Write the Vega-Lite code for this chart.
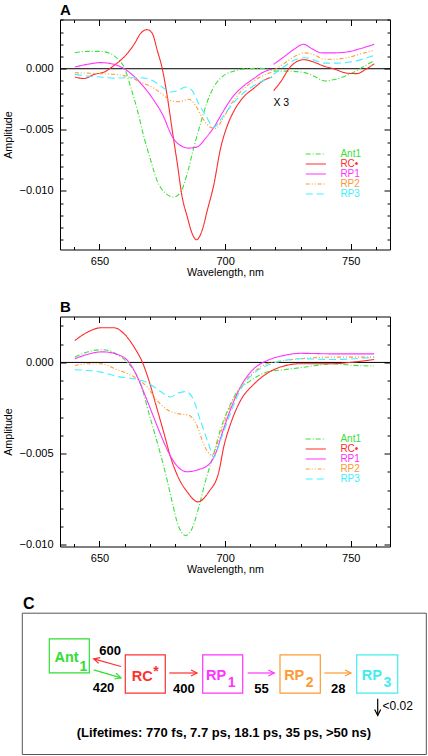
{
"$schema": "https://vega.github.io/schema/vega-lite/v6.json",
"background": "white",
"padding": {"left": 1, "top": 2.5, "right": 0, "bottom": 0},
"bounds": "flush",
"spacing": 67,
"config": {
  "view": {"stroke": "black", "strokeWidth": 1},
  "font": "Liberation Sans",
  "axis": {"domain": false, "grid": false, "tickColor": "black", "tickWidth": 1, "labelColor": "black", "labelFont": "Liberation Sans", "labelFontSize": 11, "titleColor": "black", "titleFont": "Liberation Sans", "titleFontSize": 10.7, "titleFontWeight": "normal", "labelFlush": false, "labelOverlap": false},
  "title": {"font": "Liberation Sans", "fontWeight": "bold", "color": "black", "anchor": "start", "frame": "group"}
},
"resolve": {"scale": {"color": "independent", "strokeDash": "independent"}, "legend": {"color": "independent", "strokeDash": "independent"}},
"datasets": {
"A": [
{"series":"Ant1","seg":1,"wl":640.2,"amp":0.00131},{"series":"Ant1","seg":1,"wl":645.2,"amp":0.00142},{"series":"Ant1","seg":1,"wl":650,"amp":0.00142},{"series":"Ant1","seg":1,"wl":654.5,"amp":0.00123},{"series":"Ant1","seg":1,"wl":657.1,"amp":0.00082},{"series":"Ant1","seg":1,"wl":660.1,"amp":0},{"series":"Ant1","seg":1,"wl":662.4,"amp":-0.0015},{"series":"Ant1","seg":1,"wl":665.1,"amp":-0.0034},{"series":"Ant1","seg":1,"wl":667.7,"amp":-0.0056},{"series":"Ant1","seg":1,"wl":670.4,"amp":-0.0075},{"series":"Ant1","seg":1,"wl":673,"amp":-0.0092},{"series":"Ant1","seg":1,"wl":676.3,"amp":-0.0102},{"series":"Ant1","seg":1,"wl":679.5,"amp":-0.0105},{"series":"Ant1","seg":1,"wl":682.3,"amp":-0.0101},{"series":"Ant1","seg":1,"wl":684.9,"amp":-0.0086},{"series":"Ant1","seg":1,"wl":687.6,"amp":-0.0064},{"series":"Ant1","seg":1,"wl":690.2,"amp":-0.0045},{"series":"Ant1","seg":1,"wl":692.9,"amp":-0.0027},{"series":"Ant1","seg":1,"wl":695.5,"amp":-0.0015},{"series":"Ant1","seg":1,"wl":699.5,"amp":-0.00055},{"series":"Ant1","seg":1,"wl":703.4,"amp":-0.0002},{"series":"Ant1","seg":1,"wl":708.7,"amp":0},{"series":"Ant1","seg":1,"wl":714,"amp":0.00003},{"series":"Ant1","seg":1,"wl":718.7,"amp":-0.0001},
{"series":"Ant1","seg":2,"wl":719.3,"amp":-0.0002},{"series":"Ant1","seg":2,"wl":724.6,"amp":-0.0002},{"series":"Ant1","seg":2,"wl":731.2,"amp":-0.0003},{"series":"Ant1","seg":2,"wl":735.2,"amp":-0.0006},{"series":"Ant1","seg":2,"wl":739.8,"amp":-0.001},{"series":"Ant1","seg":2,"wl":743.1,"amp":-0.0009},{"series":"Ant1","seg":2,"wl":748.4,"amp":-0.00055},{"series":"Ant1","seg":2,"wl":753.7,"amp":0},{"series":"Ant1","seg":2,"wl":759.3,"amp":0.00068},
{"series":"RC•","seg":1,"wl":640.2,"amp":-0.00068},{"series":"RC•","seg":1,"wl":643.9,"amp":-0.0008},{"series":"RC•","seg":1,"wl":647.9,"amp":-0.00046},{"series":"RC•","seg":1,"wl":651.9,"amp":-0.00027},{"series":"RC•","seg":1,"wl":655.8,"amp":0.00027},{"series":"RC•","seg":1,"wl":659.8,"amp":0.00096},{"series":"RC•","seg":1,"wl":663.8,"amp":0.002},{"series":"RC•","seg":1,"wl":666.4,"amp":0.0029},{"series":"RC•","seg":1,"wl":669,"amp":0.0032},{"series":"RC•","seg":1,"wl":671,"amp":0.0029},{"series":"RC•","seg":1,"wl":673,"amp":0.0015},{"series":"RC•","seg":1,"wl":675,"amp":0},{"series":"RC•","seg":1,"wl":677,"amp":-0.0023},{"series":"RC•","seg":1,"wl":679,"amp":-0.0051},{"series":"RC•","seg":1,"wl":681,"amp":-0.0078},{"series":"RC•","seg":1,"wl":682.9,"amp":-0.0105},{"series":"RC•","seg":1,"wl":684.9,"amp":-0.0121},{"series":"RC•","seg":1,"wl":686.9,"amp":-0.0135},{"series":"RC•","seg":1,"wl":688.6,"amp":-0.014},{"series":"RC•","seg":1,"wl":690.9,"amp":-0.0132},{"series":"RC•","seg":1,"wl":692.9,"amp":-0.0116},{"series":"RC•","seg":1,"wl":695.5,"amp":-0.0095},{"series":"RC•","seg":1,"wl":698.1,"amp":-0.0066},{"series":"RC•","seg":1,"wl":700.8,"amp":-0.0047},{"series":"RC•","seg":1,"wl":703.4,"amp":-0.0035},{"series":"RC•","seg":1,"wl":707.4,"amp":-0.0023},{"series":"RC•","seg":1,"wl":711.4,"amp":-0.0016},{"series":"RC•","seg":1,"wl":715.3,"amp":-0.00096},{"series":"RC•","seg":1,"wl":718.7,"amp":-0.00068},
{"series":"RC•","seg":2,"wl":719.3,"amp":-0.0018},{"series":"RC•","seg":2,"wl":722,"amp":-0.0011},{"series":"RC•","seg":2,"wl":725.9,"amp":0.00014},{"series":"RC•","seg":2,"wl":731.2,"amp":0.00074},{"series":"RC•","seg":2,"wl":735.2,"amp":0.00055},{"series":"RC•","seg":2,"wl":739.2,"amp":0.00022},{"series":"RC•","seg":2,"wl":743.1,"amp":0},{"series":"RC•","seg":2,"wl":748.4,"amp":-0.00036},{"series":"RC•","seg":2,"wl":752.4,"amp":-0.0004},{"series":"RC•","seg":2,"wl":756.3,"amp":0},{"series":"RC•","seg":2,"wl":759.3,"amp":0.0004},
{"series":"RP1","seg":1,"wl":640.2,"amp":0.00014},{"series":"RP1","seg":1,"wl":645.2,"amp":0.00036},{"series":"RP1","seg":1,"wl":650.5,"amp":0.0005},{"series":"RP1","seg":1,"wl":655.8,"amp":0.00036},{"series":"RP1","seg":1,"wl":659.8,"amp":0},{"series":"RP1","seg":1,"wl":663.8,"amp":-0.00063},{"series":"RP1","seg":1,"wl":667.7,"amp":-0.0015},{"series":"RP1","seg":1,"wl":671.7,"amp":-0.0026},{"series":"RP1","seg":1,"wl":675.7,"amp":-0.004},{"series":"RP1","seg":1,"wl":678.3,"amp":-0.0053},{"series":"RP1","seg":1,"wl":681,"amp":-0.0061},{"series":"RP1","seg":1,"wl":685.6,"amp":-0.0065},{"series":"RP1","seg":1,"wl":688.9,"amp":-0.0064},{"series":"RP1","seg":1,"wl":692.2,"amp":-0.0057},{"series":"RP1","seg":1,"wl":695.5,"amp":-0.0048},{"series":"RP1","seg":1,"wl":699.5,"amp":-0.0034},{"series":"RP1","seg":1,"wl":703.4,"amp":-0.0022},{"series":"RP1","seg":1,"wl":707.4,"amp":-0.0014},{"series":"RP1","seg":1,"wl":711.4,"amp":-0.0008},{"series":"RP1","seg":1,"wl":715.3,"amp":-0.00027},{"series":"RP1","seg":1,"wl":718.7,"amp":-0.00003},
{"series":"RP1","seg":2,"wl":719.3,"amp":0.00036},{"series":"RP1","seg":2,"wl":723.3,"amp":0.00096},{"series":"RP1","seg":2,"wl":727.2,"amp":0.00156},{"series":"RP1","seg":2,"wl":731.2,"amp":0.002},{"series":"RP1","seg":2,"wl":734.5,"amp":0.00164},{"series":"RP1","seg":2,"wl":738.5,"amp":0.0013},{"series":"RP1","seg":2,"wl":743.1,"amp":0.0013},{"series":"RP1","seg":2,"wl":748.4,"amp":0.00137},{"series":"RP1","seg":2,"wl":753.7,"amp":0.00164},{"series":"RP1","seg":2,"wl":759.3,"amp":0.002},
{"series":"RP2","seg":1,"wl":640.2,"amp":-0.00033},{"series":"RP2","seg":1,"wl":645.2,"amp":-0.00036},{"series":"RP2","seg":1,"wl":650.5,"amp":-0.0004},{"series":"RP2","seg":1,"wl":655.8,"amp":-0.00046},{"series":"RP2","seg":1,"wl":661.1,"amp":-0.00063},{"series":"RP2","seg":1,"wl":666.4,"amp":-0.0011},{"series":"RP2","seg":1,"wl":671.7,"amp":-0.0016},{"series":"RP2","seg":1,"wl":675.7,"amp":-0.0022},{"series":"RP2","seg":1,"wl":678.3,"amp":-0.0026},{"series":"RP2","seg":1,"wl":681.6,"amp":-0.0027},{"series":"RP2","seg":1,"wl":685.6,"amp":-0.0025},{"series":"RP2","seg":1,"wl":688.2,"amp":-0.003},{"series":"RP2","seg":1,"wl":690.9,"amp":-0.004},{"series":"RP2","seg":1,"wl":694.2,"amp":-0.0048},{"series":"RP2","seg":1,"wl":696.2,"amp":-0.0049},{"series":"RP2","seg":1,"wl":698.8,"amp":-0.0042},{"series":"RP2","seg":1,"wl":702.1,"amp":-0.003},{"series":"RP2","seg":1,"wl":706.1,"amp":-0.0019},{"series":"RP2","seg":1,"wl":711.4,"amp":-0.001},{"series":"RP2","seg":1,"wl":715.3,"amp":-0.00055},{"series":"RP2","seg":1,"wl":718.7,"amp":-0.00027},
{"series":"RP2","seg":2,"wl":719.3,"amp":-0.00014},{"series":"RP2","seg":2,"wl":723.3,"amp":0.0004},{"series":"RP2","seg":2,"wl":727.2,"amp":0.00096},{"series":"RP2","seg":2,"wl":731.9,"amp":0.0013},{"series":"RP2","seg":2,"wl":735.8,"amp":0.0011},{"series":"RP2","seg":2,"wl":739.2,"amp":0.0008},{"series":"RP2","seg":2,"wl":743.1,"amp":0.00077},{"series":"RP2","seg":2,"wl":748.4,"amp":0.0009},{"series":"RP2","seg":2,"wl":753.7,"amp":0.0012},{"series":"RP2","seg":2,"wl":759.3,"amp":0.0015},
{"series":"RP3","seg":1,"wl":640.2,"amp":-0.00046},{"series":"RP3","seg":1,"wl":645.2,"amp":-0.0006},{"series":"RP3","seg":1,"wl":650.5,"amp":-0.00068},{"series":"RP3","seg":1,"wl":655.8,"amp":-0.00077},{"series":"RP3","seg":1,"wl":661.1,"amp":-0.00074},{"series":"RP3","seg":1,"wl":666.4,"amp":-0.00074},{"series":"RP3","seg":1,"wl":670.4,"amp":-0.0009},{"series":"RP3","seg":1,"wl":674.3,"amp":-0.0014},{"series":"RP3","seg":1,"wl":678.3,"amp":-0.0019},{"series":"RP3","seg":1,"wl":681,"amp":-0.0018},{"series":"RP3","seg":1,"wl":684.3,"amp":-0.0015},{"series":"RP3","seg":1,"wl":686.9,"amp":-0.0018},{"series":"RP3","seg":1,"wl":689.6,"amp":-0.0029},{"series":"RP3","seg":1,"wl":692.2,"amp":-0.0038},{"series":"RP3","seg":1,"wl":695.5,"amp":-0.0048},{"series":"RP3","seg":1,"wl":698.1,"amp":-0.0042},{"series":"RP3","seg":1,"wl":702.1,"amp":-0.0031},{"series":"RP3","seg":1,"wl":706.1,"amp":-0.0022},{"series":"RP3","seg":1,"wl":711.4,"amp":-0.0014},{"series":"RP3","seg":1,"wl":715.3,"amp":-0.00096},{"series":"RP3","seg":1,"wl":718.7,"amp":-0.00068},
{"series":"RP3","seg":2,"wl":719.3,"amp":-0.00046},{"series":"RP3","seg":2,"wl":723.3,"amp":0.00014},{"series":"RP3","seg":2,"wl":727.2,"amp":0.00068},{"series":"RP3","seg":2,"wl":731.9,"amp":0.0009},{"series":"RP3","seg":2,"wl":735.8,"amp":0.00068},{"series":"RP3","seg":2,"wl":739.8,"amp":0.00046},{"series":"RP3","seg":2,"wl":744.4,"amp":0.00046},{"series":"RP3","seg":2,"wl":749.7,"amp":0.00055},{"series":"RP3","seg":2,"wl":755,"amp":0.0008},{"series":"RP3","seg":2,"wl":759.3,"amp":0.0011}
],
"B": [
{"series":"Ant1","wl":640.2,"amp":0.00029},{"series":"Ant1","wl":645.2,"amp":0.00057},{"series":"Ant1","wl":651.2,"amp":0.0007},{"series":"Ant1","wl":657.1,"amp":0.00044},{"series":"Ant1","wl":661.1,"amp":0},{"series":"Ant1","wl":664.4,"amp":-0.0006},{"series":"Ant1","wl":667.1,"amp":-0.0015},{"series":"Ant1","wl":669.7,"amp":-0.0028},{"series":"Ant1","wl":672.4,"amp":-0.0041},{"series":"Ant1","wl":675,"amp":-0.0054},{"series":"Ant1","wl":677,"amp":-0.0065},{"series":"Ant1","wl":679,"amp":-0.0077},{"series":"Ant1","wl":681,"amp":-0.0088},{"series":"Ant1","wl":684.3,"amp":-0.0095},{"series":"Ant1","wl":686.9,"amp":-0.0091},{"series":"Ant1","wl":689.6,"amp":-0.0079},{"series":"Ant1","wl":692.2,"amp":-0.0065},{"series":"Ant1","wl":695.5,"amp":-0.005},{"series":"Ant1","wl":698.1,"amp":-0.0037},{"series":"Ant1","wl":700.8,"amp":-0.0027},{"series":"Ant1","wl":704.8,"amp":-0.0016},{"series":"Ant1","wl":710.1,"amp":-0.001},{"series":"Ant1","wl":716.7,"amp":-0.00053},{"series":"Ant1","wl":723.3,"amp":-0.0004},{"series":"Ant1","wl":729.9,"amp":-0.00029},{"series":"Ant1","wl":736.5,"amp":-0.00016},{"series":"Ant1","wl":743.1,"amp":-0.00007},{"series":"Ant1","wl":749.7,"amp":-0.00015},{"series":"Ant1","wl":759.3,"amp":-0.0002},
{"series":"RC•","wl":640.2,"amp":0.0012},{"series":"RC•","wl":645.2,"amp":0.00166},{"series":"RC•","wl":650.5,"amp":0.0019},{"series":"RC•","wl":655.8,"amp":0.0019},{"series":"RC•","wl":659.8,"amp":0.00157},{"series":"RC•","wl":663.8,"amp":0.00084},{"series":"RC•","wl":667.1,"amp":0},{"series":"RC•","wl":669.7,"amp":-0.001},{"series":"RC•","wl":672.4,"amp":-0.0023},{"series":"RC•","wl":675.7,"amp":-0.0039},{"series":"RC•","wl":678.3,"amp":-0.0052},{"series":"RC•","wl":681,"amp":-0.0062},{"series":"RC•","wl":684.9,"amp":-0.0071},{"series":"RC•","wl":689.2,"amp":-0.00765},{"series":"RC•","wl":693.5,"amp":-0.0071},{"series":"RC•","wl":697.5,"amp":-0.006},{"series":"RC•","wl":699.5,"amp":-0.0046},{"series":"RC•","wl":702.1,"amp":-0.0034},{"series":"RC•","wl":706.1,"amp":-0.0021},{"series":"RC•","wl":711.4,"amp":-0.0012},{"series":"RC•","wl":716.7,"amp":-0.0006},{"series":"RC•","wl":723.3,"amp":-0.0002},{"series":"RC•","wl":729.9,"amp":-0.00007},{"series":"RC•","wl":743.1,"amp":-0.00007},{"series":"RC•","wl":749.7,"amp":0},{"series":"RC•","wl":759.3,"amp":0.00016},
{"series":"RP1","wl":640.2,"amp":0.0002},{"series":"RP1","wl":645.2,"amp":0.00044},{"series":"RP1","wl":651.2,"amp":0.00058},{"series":"RP1","wl":657.1,"amp":0.00044},{"series":"RP1","wl":661.8,"amp":0},{"series":"RP1","wl":665.1,"amp":-0.0008},{"series":"RP1","wl":669,"amp":-0.0021},{"series":"RP1","wl":673,"amp":-0.0035},{"series":"RP1","wl":677,"amp":-0.0048},{"series":"RP1","wl":681,"amp":-0.0057},{"series":"RP1","wl":684.9,"amp":-0.006},{"series":"RP1","wl":688.9,"amp":-0.0059},{"series":"RP1","wl":693.5,"amp":-0.0056},{"series":"RP1","wl":696.2,"amp":-0.005},{"series":"RP1","wl":698.8,"amp":-0.0039},{"series":"RP1","wl":702.1,"amp":-0.0026},{"series":"RP1","wl":706.1,"amp":-0.00135},{"series":"RP1","wl":711.4,"amp":-0.00035},{"series":"RP1","wl":716.7,"amp":0.0001},{"series":"RP1","wl":723.3,"amp":0.00038},{"series":"RP1","wl":729.9,"amp":0.0005},{"series":"RP1","wl":743.1,"amp":0.00047},{"series":"RP1","wl":759.3,"amp":0.00047},
{"series":"RP2","wl":640.2,"amp":-0.00018},{"series":"RP2","wl":645.2,"amp":-0.00007},{"series":"RP2","wl":650.5,"amp":-0.00007},{"series":"RP2","wl":657.1,"amp":-0.0004},{"series":"RP2","wl":663.8,"amp":-0.0008},{"series":"RP2","wl":669,"amp":-0.00135},{"series":"RP2","wl":673,"amp":-0.0021},{"series":"RP2","wl":677,"amp":-0.0026},{"series":"RP2","wl":681,"amp":-0.0028},{"series":"RP2","wl":685.6,"amp":-0.0029},{"series":"RP2","wl":688.9,"amp":-0.0035},{"series":"RP2","wl":691.5,"amp":-0.0045},{"series":"RP2","wl":694.8,"amp":-0.0051},{"series":"RP2","wl":698.1,"amp":-0.0039},{"series":"RP2","wl":702.1,"amp":-0.0024},{"series":"RP2","wl":706.1,"amp":-0.00135},{"series":"RP2","wl":711.4,"amp":-0.00053},{"series":"RP2","wl":716.7,"amp":-0.00007},{"series":"RP2","wl":723.3,"amp":0.0001},{"series":"RP2","wl":729.9,"amp":0.0002},{"series":"RP2","wl":743.1,"amp":0.00029},{"series":"RP2","wl":759.3,"amp":0.00029},
{"series":"RP3","wl":640.2,"amp":-0.0004},{"series":"RP3","wl":645.2,"amp":-0.00044},{"series":"RP3","wl":650.5,"amp":-0.00053},{"series":"RP3","wl":657.1,"amp":-0.00077},{"series":"RP3","wl":663.8,"amp":-0.0009},{"series":"RP3","wl":669,"amp":-0.0011},{"series":"RP3","wl":674.3,"amp":-0.0016},{"series":"RP3","wl":678.3,"amp":-0.0019},{"series":"RP3","wl":681,"amp":-0.0017},{"series":"RP3","wl":684.3,"amp":-0.0016},{"series":"RP3","wl":686.9,"amp":-0.0019},{"series":"RP3","wl":690.2,"amp":-0.0032},{"series":"RP3","wl":693.5,"amp":-0.0045},{"series":"RP3","wl":695.5,"amp":-0.0052},{"series":"RP3","wl":698.1,"amp":-0.0043},{"series":"RP3","wl":702.1,"amp":-0.0028},{"series":"RP3","wl":706.1,"amp":-0.0015},{"series":"RP3","wl":711.4,"amp":-0.0006},{"series":"RP3","wl":716.7,"amp":-0.00016},{"series":"RP3","wl":723.3,"amp":0.0001},{"series":"RP3","wl":729.9,"amp":0.0002},{"series":"RP3","wl":743.1,"amp":0.00016},{"series":"RP3","wl":759.3,"amp":0.00029}
],
"nodes": [
{"node":"Ant1","u0":27.3,"u1":67.3,"v0":25.3,"v1":59.3,"lx":56.7,"ly":48.7,"main":"Ant","sx":57.4,"sy":57,"sub":"1"},
{"node":"RC","u0":103.3,"u1":143.3,"v0":41.3,"v1":79.7,"lx":130.7,"ly":67,"main":"RC","sx":131.3,"sy":62,"sub":"*"},
{"node":"RP1","u0":180.7,"u1":220.7,"v0":41.3,"v1":79.7,"lx":204.2,"ly":66.3,"main":"RP","sx":205.7,"sy":73.8,"sub":"1"},
{"node":"RP2","u0":258,"u1":298.3,"v0":41.3,"v1":79.7,"lx":282.3,"ly":66.3,"main":"RP","sx":283.8,"sy":73.8,"sub":"2"},
{"node":"RP3","u0":334.7,"u1":375.7,"v0":41.3,"v1":79.7,"lx":360,"ly":66.3,"main":"RP","sx":361.5,"sy":73.8,"sub":"3"}
],
"arrows": [
{"node":"RC","u":99,"v":53,"u2":71.7,"v2":45.3,"ang":195.8},
{"node":"Ant1","u":71.7,"v":56.3,"u2":99,"v2":64.3,"ang":16.3},
{"node":"RC","u":147.3,"v":59.5,"u2":175,"v2":59.5,"ang":0},
{"node":"RP1","u":225.7,"v":59.5,"u2":252.3,"v2":59.5,"ang":0},
{"node":"RP2","u":302.3,"v":59.5,"u2":329,"v2":59.5,"ang":0},
{"node":"k","u":355.7,"v":85.3,"u2":355.7,"v2":102,"ang":90}
],
"rates": [
{"t":"600","u":88.2,"v":41},{"t":"420","u":81.5,"v":78.7},{"t":"400","u":161.9,"v":79.3},{"t":"55","u":239.5,"v":79.3},{"t":"28","u":316.2,"v":79.3}
]
},
"vconcat": [
{
  "title": {"text": "A", "fontSize": 15, "offset": -11, "baseline": "alphabetic"},
  "width": 330, "height": 230,
  "resolve": {"axis": {"x": "independent", "y": "independent"}},
  "layer": [
    {"data": {"values": [{"z": 0}]}, "mark": {"type": "rule", "color": "black", "strokeWidth": 1}, "encoding": {"y": {"field": "z", "type": "quantitative", "axis": null}}},
    {"data": {"name": "A"}, "mark": {"type": "line", "strokeWidth": 1.1, "interpolate": "monotone"},
     "encoding": {
      "x": {"field": "wl", "type": "quantitative", "scale": {"domain": [634.3, 765.6], "nice": false, "zero": false},
            "axis": {"orient": "bottom", "values": [650,700,750], "tickSize": 6, "offset": -6, "labelPadding": 6, "title": "Wavelength,  nm", "titlePadding": 1}},
      "y": {"field": "amp", "type": "quantitative", "scale": {"domain": [-0.0148, 0.00403], "nice": false, "zero": false},
            "axis": {"orient": "left", "values": [-0.01,-0.005,0], "format": ".3f", "tickSize": 6, "offset": -6, "labelPadding": 7, "title": "Amplitude", "titlePadding": 6}},
      "color": {"field": "series", "type": "nominal", "scale": {"domain": ["Ant1","RC•","RP1","RP2","RP3"], "range": ["#3be03b","#ff2a2a","#ff33ff","#ff9933","#40f0ff"]},
            "legend": {"orient": "none", "legendX": 250.8, "legendY": 129.5, "title": null, "symbolType": "M-2.4,0H2.4", "symbolSize": 70.6, "symbolStrokeWidth": 1.2, "labelFontSize": 10, "labelFont": "Liberation Sans", "labelOffset": 19.6, "rowPadding": 0, "padding": 0,
              "encoding": {"labels": {"fill": {"condition": [{"test": "datum.value === 'Ant1'", "value": "#3be03b"}, {"test": "datum.value === 'RC•'", "value": "#ff2a2a"}, {"test": "datum.value === 'RP1'", "value": "#ff33ff"}, {"test": "datum.value === 'RP2'", "value": "#ff9933"}], "value": "#40f0ff"}}}}},
      "strokeDash": {"field": "series", "type": "nominal", "scale": {"domain": ["Ant1","RC•","RP1","RP2","RP3"], "range": [[5,2,1,2],[1,0],[1,0],[4,2,1,2,1,2],[7,4]]}},
      "detail": {"field": "seg", "type": "nominal"}
     }},
    {"data": {"name": "A"}, "mark": {"type": "point", "opacity": 0},
     "encoding": {
      "x": {"field": "wl", "type": "quantitative", "axis": {"orient": "top", "values": [650,700,750], "tickSize": 6, "offset": -6, "labels": false, "title": null}},
      "y": {"field": "amp", "type": "quantitative", "axis": {"orient": "right", "values": [-0.01,-0.005,0], "tickSize": 6, "offset": -6, "labels": false, "title": null}}
     }},
    {"data": {"name": "A"}, "mark": {"type": "point", "opacity": 0},
     "encoding": {
      "x": {"field": "wl", "type": "quantitative", "axis": {"orient": "bottom", "values": [640,660,670,680,690,710,720,730,740,760], "tickSize": 3, "offset": -3, "labels": false, "title": null}},
      "y": {"field": "amp", "type": "quantitative", "axis": {"orient": "left", "values": [-0.014,-0.013,-0.012,-0.011,-0.009,-0.008,-0.007,-0.006,-0.004,-0.003,-0.002,-0.001,0.001,0.002,0.003,0.004], "tickSize": 3, "offset": -3, "labels": false, "title": null}}
     }},
    {"data": {"name": "A"}, "mark": {"type": "point", "opacity": 0},
     "encoding": {
      "x": {"field": "wl", "type": "quantitative", "axis": {"orient": "top", "values": [640,660,670,680,690,710,720,730,740,760], "tickSize": 3, "offset": -3, "labels": false, "title": null}},
      "y": {"field": "amp", "type": "quantitative", "axis": {"orient": "right", "values": [-0.014,-0.013,-0.012,-0.011,-0.009,-0.008,-0.007,-0.006,-0.004,-0.003,-0.002,-0.001,0.001,0.002,0.003,0.004], "tickSize": 3, "offset": -3, "labels": false, "title": null}}
     }},
    {"data": {"values": [{"wl": 719.2, "amp": -0.00284, "t": "X 3"}]}, "mark": {"type": "text", "align": "left", "baseline": "middle", "fontSize": 10.5, "font": "Liberation Sans", "color": "black"},
     "encoding": {"x": {"field": "wl", "type": "quantitative", "axis": null}, "y": {"field": "amp", "type": "quantitative", "axis": null}, "text": {"field": "t"}}}
  ]
},
{
  "title": {"text": "B", "fontSize": 15, "offset": -11, "baseline": "alphabetic"},
  "width": 330, "height": 230,
  "resolve": {"axis": {"x": "independent", "y": "independent"}},
  "layer": [
    {"data": {"values": [{"z": 0}]}, "mark": {"type": "rule", "color": "black", "strokeWidth": 1}, "encoding": {"y": {"field": "z", "type": "quantitative", "axis": null}}},
    {"data": {"name": "B"}, "mark": {"type": "line", "strokeWidth": 1.1, "interpolate": "monotone"},
     "encoding": {
      "x": {"field": "wl", "type": "quantitative", "scale": {"domain": [634.3, 765.6], "nice": false, "zero": false},
            "axis": {"orient": "bottom", "values": [650,700,750], "tickSize": 6, "offset": -6, "labelPadding": 6, "title": "Wavelength,  nm", "titlePadding": 1}},
      "y": {"field": "amp", "type": "quantitative", "scale": {"domain": [-0.0101, 0.00252], "nice": false, "zero": false},
            "axis": {"orient": "left", "values": [-0.01,-0.005,0], "format": ".3f", "tickSize": 6, "offset": -6, "labelPadding": 7, "title": "Amplitude", "titlePadding": 6}},
      "color": {"field": "series", "type": "nominal", "scale": {"domain": ["Ant1","RC•","RP1","RP2","RP3"], "range": ["#3be03b","#ff2a2a","#ff33ff","#ff9933","#40f0ff"]},
            "legend": {"orient": "none", "legendX": 250.8, "legendY": 117.5, "title": null, "symbolType": "M-2.4,0H2.4", "symbolSize": 70.6, "symbolStrokeWidth": 1.2, "labelFontSize": 10, "labelFont": "Liberation Sans", "labelOffset": 19.6, "rowPadding": 0, "padding": 0,
              "encoding": {"labels": {"fill": {"condition": [{"test": "datum.value === 'Ant1'", "value": "#3be03b"}, {"test": "datum.value === 'RC•'", "value": "#ff2a2a"}, {"test": "datum.value === 'RP1'", "value": "#ff33ff"}, {"test": "datum.value === 'RP2'", "value": "#ff9933"}], "value": "#40f0ff"}}}}},
      "strokeDash": {"field": "series", "type": "nominal", "scale": {"domain": ["Ant1","RC•","RP1","RP2","RP3"], "range": [[5,2,1,2],[1,0],[1,0],[4,2,1,2,1,2],[7,4]]}}
     }},
    {"data": {"name": "B"}, "mark": {"type": "point", "opacity": 0},
     "encoding": {
      "x": {"field": "wl", "type": "quantitative", "axis": {"orient": "top", "values": [650,700,750], "tickSize": 6, "offset": -6, "labels": false, "title": null}},
      "y": {"field": "amp", "type": "quantitative", "axis": {"orient": "right", "values": [-0.01,-0.005,0], "tickSize": 6, "offset": -6, "labels": false, "title": null}}
     }},
    {"data": {"name": "B"}, "mark": {"type": "point", "opacity": 0},
     "encoding": {
      "x": {"field": "wl", "type": "quantitative", "axis": {"orient": "bottom", "values": [640,660,670,680,690,710,720,730,740,760], "tickSize": 3, "offset": -3, "labels": false, "title": null}},
      "y": {"field": "amp", "type": "quantitative", "axis": {"orient": "left", "values": [-0.009,-0.008,-0.007,-0.006,-0.004,-0.003,-0.002,-0.001,0.001,0.002], "tickSize": 3, "offset": -3, "labels": false, "title": null}}
     }},
    {"data": {"name": "B"}, "mark": {"type": "point", "opacity": 0},
     "encoding": {
      "x": {"field": "wl", "type": "quantitative", "axis": {"orient": "top", "values": [640,660,670,680,690,710,720,730,740,760], "tickSize": 3, "offset": -3, "labels": false, "title": null}},
      "y": {"field": "amp", "type": "quantitative", "axis": {"orient": "right", "values": [-0.009,-0.008,-0.007,-0.006,-0.004,-0.003,-0.002,-0.001,0.001,0.002], "tickSize": 3, "offset": -3, "labels": false, "title": null}}
     }}
  ]
},
{
  "title": {"text": "C", "fontSize": 16, "offset": -12, "baseline": "alphabetic", "dx": -37},
  "width": 330, "height": 142,
  "view": {"stroke": null},
  "layer": [
    {"data": {"values": [{"u0": 0.3, "u1": 404.3, "v0": -0.3, "v1": 141}]}, "mark": {"type": "rect", "fill": "transparent", "stroke": "#555555", "strokeWidth": 1},
     "encoding": {"x": {"field": "u0", "type": "quantitative", "scale": {"domain": [38, 368], "nice": false, "zero": false}, "axis": null}, "x2": {"field": "u1"},
                  "y": {"field": "v0", "type": "quantitative", "scale": {"domain": [0, 142], "nice": false, "zero": false, "reverse": true}, "axis": null}, "y2": {"field": "v1"}}},
    {"data": {"name": "nodes"}, "mark": {"type": "rect", "fill": "transparent", "strokeWidth": 1.2},
     "encoding": {"x": {"field": "u0", "type": "quantitative", "scale": {"domain": [38, 368], "nice": false, "zero": false}, "axis": null}, "x2": {"field": "u1"},
                  "y": {"field": "v0", "type": "quantitative", "scale": {"domain": [0, 142], "nice": false, "zero": false, "reverse": true}, "axis": null}, "y2": {"field": "v1"},
                  "stroke": {"field": "node", "type": "nominal", "scale": {"domain": ["Ant1","RC","RP1","RP2","RP3","k"], "range": ["#33dd33","#ff3030","#ff33ff","#ff9933","#40eef0","black"]}, "legend": null}}},
    {"data": {"name": "nodes"}, "mark": {"type": "text", "align": "right", "baseline": "alphabetic", "fontSize": 14.5, "fontWeight": "bold", "font": "Liberation Sans"},
     "encoding": {"x": {"field": "lx", "type": "quantitative", "scale": {"domain": [38, 368], "nice": false, "zero": false}, "axis": null},
                  "y": {"field": "ly", "type": "quantitative", "scale": {"domain": [0, 142], "nice": false, "zero": false, "reverse": true}, "axis": null},
                  "text": {"field": "main"},
                  "color": {"field": "node", "type": "nominal", "scale": {"domain": ["Ant1","RC","RP1","RP2","RP3","k"], "range": ["#33dd33","#ff3030","#ff33ff","#ff9933","#40eef0","black"]}, "legend": null}}},
    {"data": {"name": "nodes"}, "mark": {"type": "text", "align": "left", "baseline": "alphabetic", "fontSize": 14, "fontWeight": "bold", "font": "Liberation Sans"},
     "encoding": {"x": {"field": "sx", "type": "quantitative", "scale": {"domain": [38, 368], "nice": false, "zero": false}, "axis": null},
                  "y": {"field": "sy", "type": "quantitative", "scale": {"domain": [0, 142], "nice": false, "zero": false, "reverse": true}, "axis": null},
                  "text": {"field": "sub"},
                  "color": {"field": "node", "type": "nominal", "scale": {"domain": ["Ant1","RC","RP1","RP2","RP3","k"], "range": ["#33dd33","#ff3030","#ff33ff","#ff9933","#40eef0","black"]}, "legend": null}}},
    {"data": {"name": "arrows"}, "mark": {"type": "rule", "strokeWidth": 1.2},
     "encoding": {"x": {"field": "u", "type": "quantitative", "scale": {"domain": [38, 368], "nice": false, "zero": false}, "axis": null}, "x2": {"field": "u2"},
                  "y": {"field": "v", "type": "quantitative", "scale": {"domain": [0, 142], "nice": false, "zero": false, "reverse": true}, "axis": null}, "y2": {"field": "v2"},
                  "stroke": {"field": "node", "type": "nominal", "scale": {"domain": ["Ant1","RC","RP1","RP2","RP3","k"], "range": ["#33dd33","#ff3030","#ff33ff","#ff9933","#40eef0","black"]}, "legend": null}}},
    {"data": {"name": "arrows"}, "mark": {"type": "point", "filled": false, "opacity": 1, "shape": "M-1,-0.5L0,0L-1,0.5", "size": 144, "strokeWidth": 1.2},
     "encoding": {"x": {"field": "u2", "type": "quantitative", "scale": {"domain": [38, 368], "nice": false, "zero": false}, "axis": null},
                  "y": {"field": "v2", "type": "quantitative", "scale": {"domain": [0, 142], "nice": false, "zero": false, "reverse": true}, "axis": null},
                  "angle": {"field": "ang", "type": "quantitative", "scale": null},
                  "stroke": {"field": "node", "type": "nominal", "scale": {"domain": ["Ant1","RC","RP1","RP2","RP3","k"], "range": ["#33dd33","#ff3030","#ff33ff","#ff9933","#40eef0","black"]}, "legend": null}}},
    {"data": {"name": "rates"}, "mark": {"type": "text", "align": "center", "baseline": "alphabetic", "fontSize": 13, "fontWeight": "bold", "font": "Liberation Sans", "color": "black"},
     "encoding": {"x": {"field": "u", "type": "quantitative", "scale": {"domain": [38, 368], "nice": false, "zero": false}, "axis": null},
                  "y": {"field": "v", "type": "quantitative", "scale": {"domain": [0, 142], "nice": false, "zero": false, "reverse": true}, "axis": null},
                  "text": {"field": "t"}}},
    {"data": {"values": [{"u": 360.5, "v": 96.3, "t": "<0.02"}]}, "mark": {"type": "text", "align": "left", "baseline": "alphabetic", "fontSize": 12, "font": "Liberation Sans", "color": "black"},
     "encoding": {"x": {"field": "u", "type": "quantitative", "scale": {"domain": [38, 368], "nice": false, "zero": false}, "axis": null},
                  "y": {"field": "v", "type": "quantitative", "scale": {"domain": [0, 142], "nice": false, "zero": false, "reverse": true}, "axis": null},
                  "text": {"field": "t"}}},
    {"data": {"values": [{"u": 201.9, "v": 123, "t": "(Lifetimes: 770 fs, 7.7 ps, 18.1 ps, 35 ps, >50 ns)"}]}, "mark": {"type": "text", "align": "center", "baseline": "alphabetic", "fontSize": 13, "fontWeight": "bold", "font": "Liberation Sans", "color": "black"},
     "encoding": {"x": {"field": "u", "type": "quantitative", "scale": {"domain": [38, 368], "nice": false, "zero": false}, "axis": null},
                  "y": {"field": "v", "type": "quantitative", "scale": {"domain": [0, 142], "nice": false, "zero": false, "reverse": true}, "axis": null},
                  "text": {"field": "t"}}}
  ]
}
]
}
